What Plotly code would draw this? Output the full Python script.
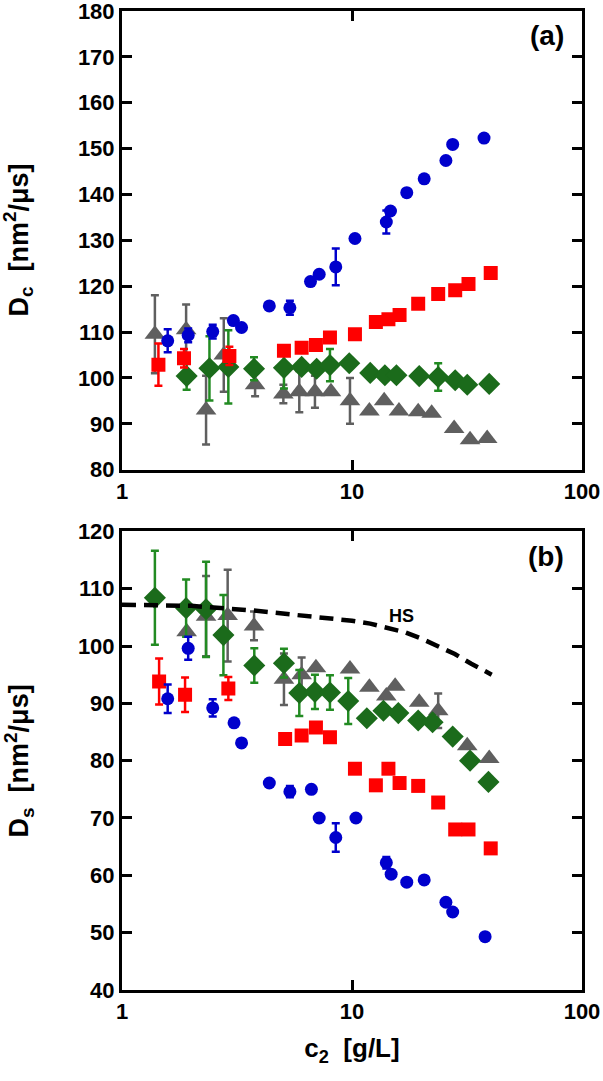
import plotly.graph_objects as go

# ---- panel (a): collective diffusion Dc ----
a_blue_x = [1.58, 1.94, 2.48, 3.05, 3.31, 4.37, 5.37, 6.6, 7.2, 8.5, 10.3, 14.1, 14.7, 17.3, 20.6, 25.6, 27.4, 37.5]
a_blue_y = [108.1, 109.3, 110.1, 112.5, 111.0, 115.7, 115.3, 121.0, 122.6, 124.2, 130.4, 134.0, 136.4, 140.4, 143.4, 147.4, 150.9, 152.3]
a_blue_e = [2.5, 1.5, 1.5, 0, 0, 0, 1.5, 0, 0, 4.0, 0, 2.5, 0, 0, 0, 0, 0, 0]

a_red_x = [1.44, 1.86, 2.93, 5.06, 6.04, 6.97, 8.02, 10.3, 12.7, 14.4, 16.1, 19.4, 23.7, 28.1, 32.1, 40.1]
a_red_y = [102.9, 104.3, 104.8, 105.9, 106.6, 107.2, 108.8, 109.5, 112.2, 112.8, 113.7, 116.2, 118.3, 119.1, 120.5, 122.9]
a_red_e = [4.6, 2.0, 2.0, 0, 0, 0, 0, 0, 0, 0, 0, 0, 0, 0, 0, 0]

a_green_x = [1.91, 2.40, 2.90, 3.75, 5.06, 6.04, 7.02, 8.02, 9.73, 12.0, 13.9, 15.6, 19.6, 23.7, 28.1, 31.7, 39.5]
a_green_y = [100.4, 102.1, 102.4, 102.0, 102.2, 102.4, 102.0, 102.8, 103.2, 101.1, 100.6, 100.6, 100.4, 100.2, 99.5, 98.5, 98.7]
a_green_e = [3.0, 7.0, 8.0, 2.5, 4.5, 0, 0, 3.5, 0, 0, 0, 0, 0, 3.0, 0, 0, 0]

a_gray_x = [1.39, 1.90, 2.32, 2.77, 3.79, 5.03, 5.90, 6.90, 8.10, 9.80, 11.9, 13.8, 16.0, 19.4, 22.2, 27.8, 32.6, 38.7]
a_gray_y = [109.5, 110.5, 93.0, 105.0, 98.5, 96.5, 97.0, 97.0, 97.0, 95.0, 92.8, 95.0, 92.8, 92.6, 92.3, 89.0, 86.5, 86.8]
a_gray_e = [8.5, 5.5, 7.5, 8.0, 2.5, 2.0, 4.5, 3.5, 0, 5.0, 0, 0, 0, 0, 0, 0, 0, 0]

# ---- panel (b): self diffusion Ds ----
b_blue_x = [1.58, 1.94, 2.48, 3.07, 3.31, 4.37, 5.37, 6.66, 7.2, 8.5, 10.4, 14.1, 14.8, 17.3, 20.6, 25.6, 27.4, 37.9]
b_blue_y = [90.8, 99.6, 89.2, 86.6, 83.1, 76.1, 74.6, 75.0, 70.0, 66.6, 70.0, 62.2, 60.2, 58.8, 59.2, 55.3, 53.6, 49.3]
b_blue_e = [2.5, 2.0, 1.5, 0, 0, 0, 1.0, 0, 0, 2.5, 0, 1.0, 0, 0, 0, 0, 0, 0]

b_red_x = [1.45, 1.88, 2.90, 5.12, 6.04, 6.97, 8.02, 10.3, 12.7, 14.4, 16.1, 19.4, 23.7, 28.1, 32.1, 40.1]
b_red_y = [93.8, 91.5, 92.6, 83.8, 84.4, 85.8, 84.1, 78.6, 75.7, 78.6, 76.1, 75.6, 72.7, 68.0, 68.0, 64.7]
b_red_e = [4.0, 3.0, 2.0, 0, 0, 0, 0, 0, 0, 0, 0, 0, 0, 0, 0, 0]

b_green_x = [1.39, 1.90, 2.32, 2.76, 3.76, 5.06, 5.90, 6.90, 8.02, 9.63, 11.6, 13.7, 15.9, 19.4, 22.4, 27.4, 32.6, 39.2]
b_green_y = [108.4, 106.6, 106.4, 101.9, 96.6, 97.0, 91.8, 92.0, 91.9, 90.4, 87.4, 88.7, 88.3, 87.0, 86.7, 84.2, 80.0, 76.3]
b_green_e = [8.2, 5.0, 8.3, 7.0, 3.0, 2.5, 4.0, 3.0, 3.0, 4.0, 0, 0, 0, 0, 0, 0, 0, 0]

b_gray_x = [1.91, 2.32, 2.88, 3.75, 5.06, 6.04, 6.97, 9.80, 11.9, 14.1, 15.4, 19.6, 23.7, 31.7, 39.5]
b_gray_y = [102.5, 105.2, 105.3, 103.5, 94.2, 95.0, 96.2, 96.0, 92.8, 91.3, 93.0, 90.2, 88.7, 82.6, 80.4]
b_gray_e = [0, 7.0, 8.0, 2.5, 4.5, 3.0, 0, 0, 0, 0, 0, 0, 3.0, 0, 0]

# hard-sphere reference curve
hs_x = [1.0, 2.0, 3.7, 7.0, 10.0, 12.0, 14.0, 17.0, 20.0, 24.0, 28.0, 33.0, 40.5]
hs_y = [107.2, 107.0, 106.2, 105.1, 104.4, 103.9, 103.3, 102.4, 101.3, 99.9, 98.6, 96.9, 95.0]

# tick positions
x_major = [1, 10, 100]
x_minor = [2, 3, 4, 5, 6, 7, 8, 9, 20, 30, 40, 50, 60, 70, 80, 90]
ya_major = [80, 90, 100, 110, 120, 130, 140, 150, 160, 170, 180]
ya_minor = [85, 95, 105, 115, 125, 135, 145, 155, 165, 175]
yb_major = [40, 50, 60, 70, 80, 90, 100, 110, 120]
yb_minor = [45, 55, 65, 75, 85, 95, 105, 115]

BLUE = "#0000CC"
RED = "#FF0000"
GREEN = "#1B6B1B"
GREEN_ERR = "#228B22"
GRAY = "#5F5F5F"
FONT = "Liberation Sans"

fig = go.Figure()


def add_series(xa, ya, x, y, e, color, ecolor, symbol, size):
    fig.add_trace(go.Scatter(
        x=x, y=y, mode="markers", xaxis=xa, yaxis=ya,
        marker=dict(symbol=symbol, size=size, color=color, line=dict(width=0)),
        error_y=dict(type="data", array=e, visible=True, color=ecolor, thickness=2.5, width=4),
        showlegend=False))


add_series("x", "y", a_gray_x, a_gray_y, a_gray_e, GRAY, GRAY, "triangle-up", 18)
add_series("x", "y", a_green_x, a_green_y, a_green_e, GREEN, GREEN_ERR, "diamond", 17)
add_series("x", "y", a_red_x, a_red_y, a_red_e, RED, RED, "square", 14)
add_series("x", "y", a_blue_x, a_blue_y, a_blue_e, BLUE, BLUE, "circle", 13)

add_series("x2", "y2", b_gray_x, b_gray_y, b_gray_e, GRAY, GRAY, "triangle-up", 18)
add_series("x2", "y2", b_green_x, b_green_y, b_green_e, GREEN, GREEN_ERR, "diamond", 17)
add_series("x2", "y2", b_red_x, b_red_y, b_red_e, RED, RED, "square", 14)
add_series("x2", "y2", b_blue_x, b_blue_y, b_blue_e, BLUE, BLUE, "circle", 13)

fig.add_trace(go.Scatter(x=hs_x, y=hs_y, mode="lines", xaxis="x2", yaxis="y2",
                         line=dict(color="black", width=4.5, dash="14px,8px"),
                         showlegend=False))

tickfont = dict(family=FONT, size=22, color="black", weight="bold")
dom_a = [0.5315, 1.0]
dom_b = [0.0, 0.4685]


def major_x(anchor):
    return dict(type="log", range=[0, 2], domain=[0, 1], anchor=anchor,
                tickmode="array", tickvals=x_major, ticktext=[str(v) for v in x_major],
                ticks="inside", ticklen=10, tickwidth=2.5, tickcolor="black",
                showline=True, linewidth=3, linecolor="black", mirror="allticks",
                showgrid=False, zeroline=False, tickfont=tickfont, ticklabeloverflow="allow")


def minor_x(over, anchor):
    return dict(type="log", range=[0, 2], domain=[0, 1], anchor=anchor, overlaying=over,
                tickmode="array", tickvals=x_minor, showticklabels=False,
                ticks="inside", ticklen=6, tickwidth=2.5, tickcolor="black",
                showline=False, mirror="allticks", showgrid=False, zeroline=False)


def major_y(rng, vals, dom, anchor):
    return dict(range=rng, domain=dom, anchor=anchor, tickmode="array", tickvals=vals,
                ticks="inside", ticklen=10, tickwidth=2.5, tickcolor="black",
                showline=True, linewidth=3, linecolor="black", mirror="allticks",
                showgrid=False, zeroline=False, tickfont=tickfont, ticklabeloverflow="allow")


def minor_y(rng, vals, dom, over, anchor):
    return dict(range=rng, domain=dom, anchor=anchor, overlaying=over, tickmode="array",
                tickvals=vals, showticklabels=False,
                ticks="inside", ticklen=6, tickwidth=2.5, tickcolor="black",
                showline=False, mirror="allticks", showgrid=False, zeroline=False)


fig.update_layout(
    xaxis=major_x("y"),
    xaxis2=major_x("y2"),
    xaxis3=minor_x("x", "y"),
    xaxis4=minor_x("x2", "y2"),
    yaxis=major_y([80, 180], ya_major, dom_a, "x"),
    yaxis2=major_y([40, 120], yb_major, dom_b, "x2"),
    yaxis3=minor_y([80, 180], ya_minor, dom_a, "y", "x"),
    yaxis4=minor_y([40, 120], yb_minor, dom_b, "y2", "x2"),
)

fig.update_layout(xaxis2_title=dict(text="<b>c<sub>2</sub>  [g/L]</b>",
                                    font=dict(family=FONT, size=26, color="black"), standoff=16))

# rotated axis titles as annotations
fig.add_annotation(text="<b>D<sub>c</sub>  [nm<sup>2</sup>/\u03bcs]</b>", xref="paper", yref="paper",
                   x=-0.225, y=0.766, textangle=-90, showarrow=False, xanchor="center", yanchor="middle",
                   font=dict(family=FONT, size=27, color="black"))
fig.add_annotation(text="<b>D<sub>s</sub>  [nm<sup>2</sup>/\u03bcs]</b>", xref="paper", yref="paper",
                   x=-0.225, y=0.234, textangle=-90, showarrow=False, xanchor="center", yanchor="middle",
                   font=dict(family=FONT, size=27, color="black"))

fig.add_annotation(text="<b>(a)</b>", xref="paper", yref="paper", x=0.965, y=0.9925,
                   xanchor="right", yanchor="top", showarrow=False,
                   font=dict(family=FONT, size=28, color="black"))
fig.add_annotation(text="<b>(b)</b>", xref="paper", yref="paper", x=0.965, y=0.461,
                   xanchor="right", yanchor="top", showarrow=False,
                   font=dict(family=FONT, size=28, color="black"))
fig.add_annotation(text="<b>HS</b>", xref="x2", yref="y2", x=1.215, y=105.3, showarrow=False,
                   font=dict(family=FONT, size=18, color="black"))

fig.update_layout(width=603, height=1081, plot_bgcolor="white", paper_bgcolor="white",
                  margin=dict(l=122, r=21, t=11, b=91, autoexpand=False))

# drop the browser's default body margin so the figure fills the window
fig.write_html("out.html", config={"displayModeBar": False},
               post_script="document.body.style.margin='0';")
